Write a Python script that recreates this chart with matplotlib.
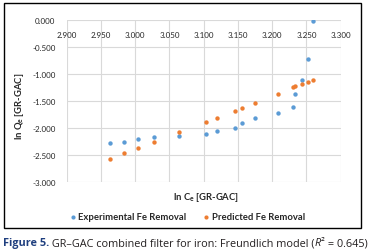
import matplotlib
matplotlib.use("Agg")
import matplotlib.pyplot as plt
from matplotlib.patches import Rectangle

ln_ce = [2.963, 2.984, 3.004, 3.028, 3.064, 3.103, 3.119, 3.145, 3.156, 3.175,
         3.208, 3.231, 3.234, 3.244, 3.252, 3.259]
exp_lnqe = [-2.29, -2.256, -2.214, -2.179, -2.155, -2.125, -2.06, -2.006, -1.91, -1.815,
            -1.726, -1.61, -1.381, -1.11, -0.72, -0.03]
pred_lnqe = [-2.571, -2.464, -2.369, -2.256, -2.077, -1.899, -1.815, -1.685, -1.637, -1.542,
             -1.369, -1.25, -1.23, -1.19, -1.15, -1.11]
x_ticks = [2.900, 2.950, 3.000, 3.050, 3.100, 3.150, 3.200, 3.250, 3.300]
y_ticks = [0.0, -0.5, -1.0, -1.5, -2.0, -2.5, -3.0]
series_names = ["Experimental Fe Removal", "Predicted Fe Removal"]
colors = ["#5b9bd5", "#ed7d31"]

plt.rcParams["mathtext.fontset"] = "custom"
plt.rcParams["mathtext.bf"] = "Lato:bold"
plt.rcParams["mathtext.rm"] = "Lato"
plt.rcParams["mathtext.it"] = "Lato:italic"

W, H = 370, 253
fig = plt.figure(figsize=(W / 100, H / 100), dpi=100)
TF = ["Lato", "DejaVu Sans"]
CF = ["Open Sans", "DejaVu Sans"]

def fx(px):
    return px / W

def fy(py):
    return 1 - py / H

left, right, top, bottom = 66.7, 340.7, 20.7, 182.7
ax = fig.add_axes([fx(left), fy(bottom), (right - left) / W, (bottom - top) / H])
ax.set_xlim(2.9, 3.3)
ax.set_ylim(-3.0, 0.0)
ax.set_xticks(x_ticks)
ax.set_yticks(y_ticks)
ax.set_xticklabels([f"{v:.3f}" for v in x_ticks], fontfamily=TF, fontsize=5.8, color="#262626")
ax.set_yticklabels([f"{v:.3f}" for v in y_ticks], fontfamily=TF, fontsize=5.8, color="#262626")
ax.tick_params(axis="x", top=False, bottom=False, labeltop=True, labelbottom=False, pad=-13, length=0)
ax.tick_params(axis="y", length=0, pad=8)
ax.grid(True, color="#d9d9d9", linewidth=0.8)
ax.set_axisbelow(True)
for s in ax.spines.values():
    s.set_visible(False)
ax.scatter(ln_ce, exp_lnqe, s=10, color=colors[0], zorder=3, linewidths=0)
ax.scatter(ln_ce, pred_lnqe, s=10, color=colors[1], zorder=3, linewidths=0)

fig.text(fx(206), fy(197.5), r"ln C$_\mathbf{e}$ [GR-GAC]", fontfamily=TF, fontsize=6.8,
         fontweight="bold", color="#262626", ha="center", va="center")
fig.text(fx(20), fy(106), r"ln Q$_\mathbf{e}$ [GR-GAC]", fontfamily=TF, fontsize=6.8,
         fontweight="bold", color="#262626", ha="center", va="center", rotation=90)

# legend
leg_y = fy(217.5)
for mx, tx, name, c in [(72.7, 78.3, series_names[0], colors[0]), (206.3, 212, series_names[1], colors[1])]:
    fig.lines.append(plt.Line2D([fx(mx)], [leg_y], marker="o", markersize=3.0, color=c,
                                linestyle="none", transform=fig.transFigure, markeredgewidth=0))
    fig.text(fx(tx), leg_y, name, fontfamily=TF, fontsize=6.8, fontweight="bold",
             color="#262626", ha="left", va="center")

# outer box
fig.patches.append(Rectangle((fx(3.5), fy(229.3)), fx(361 - 3.5), (229.3 - 4) / H, fill=False,
                             edgecolor="black", linewidth=1.0, transform=fig.transFigure))

# caption
renderer = fig.canvas.get_renderer()
cap_y = fy(244)
pieces = [("Figure 5.", "bold", "normal", "#1f3f7f"),
          (" GR\u2013GAC combined filter for iron: Freundlich model (", "normal", "normal", "#231f20"),
          ("R", "normal", "italic", "#231f20"),
          ("\u00b2", "normal", "normal", "#231f20"),
          (" = 0.645)", "normal", "normal", "#231f20")]
xpos = fx(3)
for txt, wt, st, c in pieces:
    t = fig.text(xpos, cap_y, txt, fontfamily=CF, fontsize=7.8, fontweight=wt, fontstyle=st,
                 color=c, ha="left", va="center")
    bb = t.get_window_extent(renderer)
    xpos = bb.x1 / W

fig.savefig("out.png", dpi=100)
